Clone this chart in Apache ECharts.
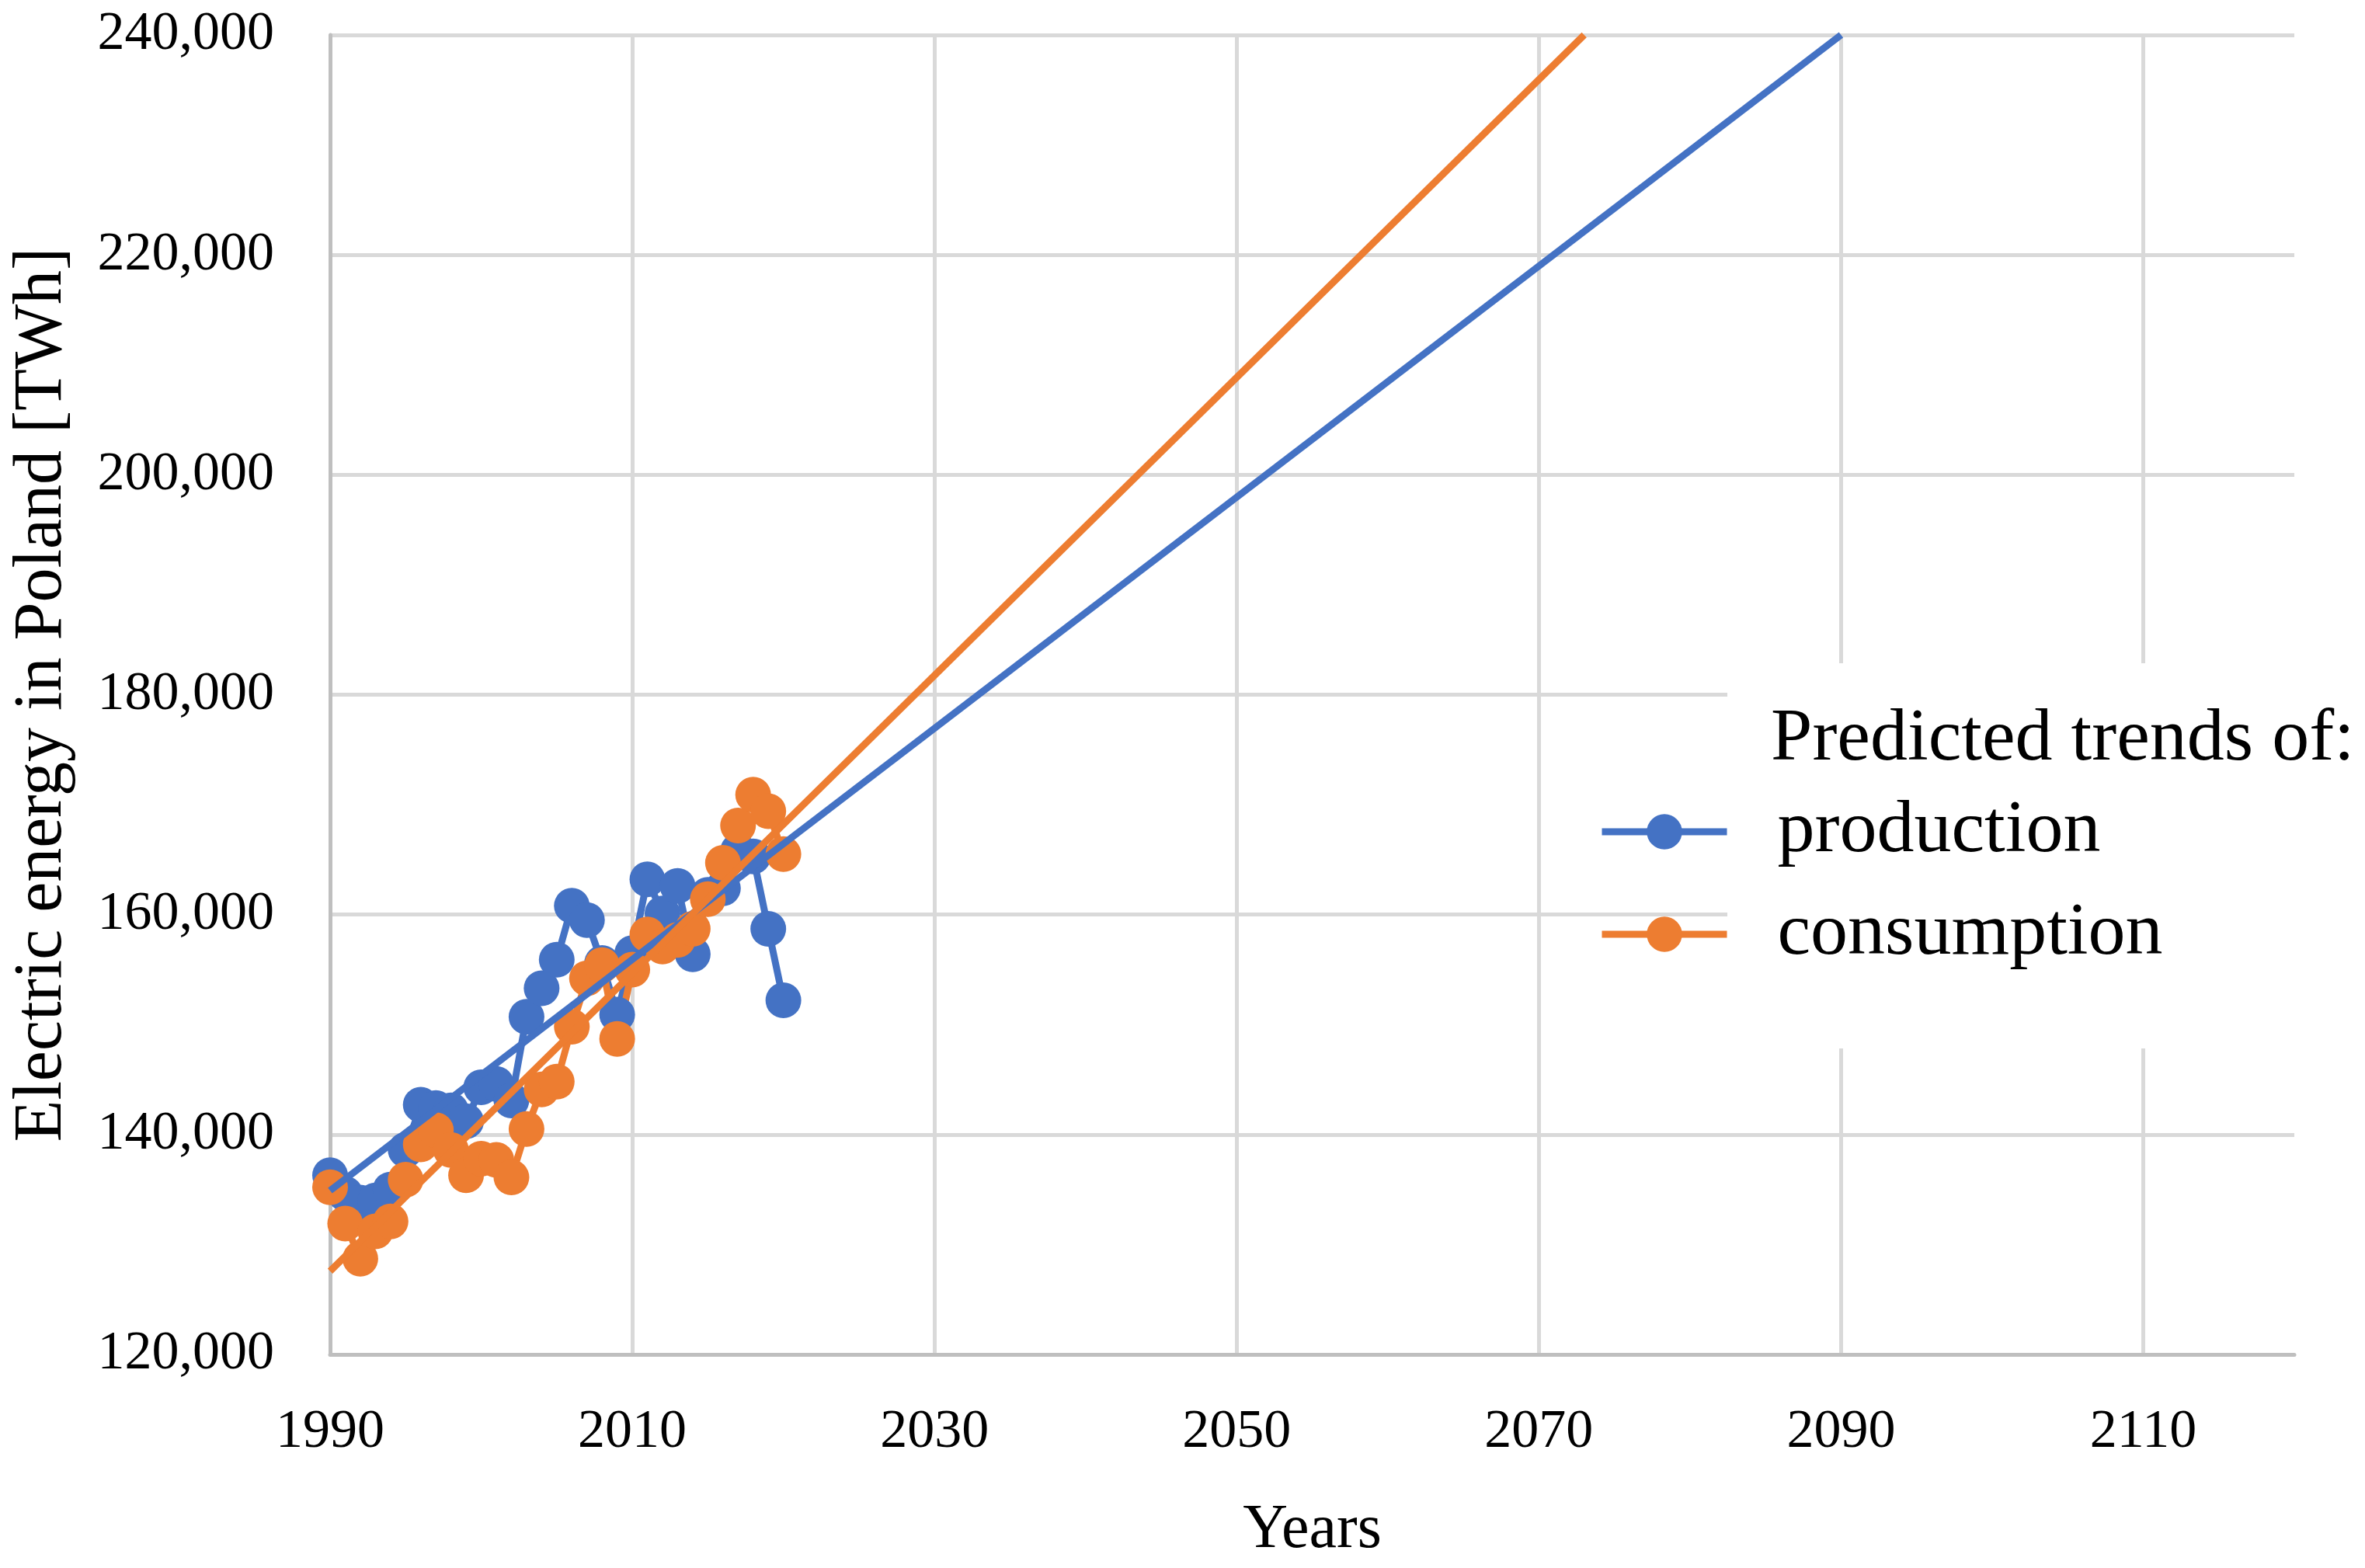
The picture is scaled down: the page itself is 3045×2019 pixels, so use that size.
<!DOCTYPE html>
<html><head><meta charset="utf-8">
<script src="https://cdn.jsdelivr.net/npm/echarts@6/dist/echarts.min.js"></script>
<style>html,body{margin:0;padding:0;background:#fff}#c{width:3045px;height:2019px}</style>
</head><body><div id="c"></div>
<script>
const years = [1990,1991,1992,1993,1994,1995,1996,1997,1998,1999,2000,2001,2002,2003,2004,2005,2006,2007,2008,2009,2010,2011,2012,2013,2014,2015,2016,2017,2018,2019,2020];
const production = [136300,134600,133800,134000,135000,138600,142700,142400,142200,141200,144300,144600,143100,150700,153300,155900,160800,159500,155600,150900,156500,163200,160100,162600,156400,161800,162400,165800,165300,158700,152200];
const consumption = [135200,131900,128700,131200,132100,135900,139100,140400,138600,136300,137800,137700,136100,140500,144100,144800,149800,154200,155400,148700,155000,158200,157100,157700,158700,161400,164700,168100,170900,169400,165500];
const productionTrend = [[1990,134900],[2090,240000]];
const consumptionTrend = [[1990,127580],[2073,240000]];
const xTickLabels = [1990,2010,2030,2050,2070,2090,2110];
const yTickLabels = [120000,140000,160000,180000,200000,220000,240000];
const seriesNames = ['production','consumption'];
const legendTitle = 'Predicted trends of:';

const BLUE = '#4472C4', ORANGE = '#ED7D31';
const FONT = 'Liberation Serif';
const LW = 9;
const chart = echarts.init(document.getElementById('c'), null, {width:3045, height:2019});
const pair = (xs, ys) => xs.map((x,i)=>[x, ys[i]]);

chart.setOption({
  animation: false,
  backgroundColor: '#ffffff',
  grid: {left: 425, top: 45, right: 91, bottom: 275},
  xAxis: {
    type: 'value', min: 1990, max: 2120, interval: 20,
    name: 'Years', nameLocation: 'middle', nameGap: 187,
    nameTextStyle: {fontFamily: FONT, fontSize: 80, color: '#000'},
    axisLine: {show: true, lineStyle: {color: '#bfbfbf', width: 5}},
    axisTick: {show: false},
    axisLabel: {margin: 66, fontFamily: FONT, fontSize: 70, color: '#000',
      formatter: v => xTickLabels.indexOf(v) >= 0 ? String(v) : ''},
    splitLine: {show: true, lineStyle: {color: ['#d9d9d9','#d9d9d9','#d9d9d9','#d9d9d9','#d9d9d9','#d9d9d9','#d9d9d9','rgba(0,0,0,0)'], width: 5}}
  },
  yAxis: {
    type: 'value', min: 120000, max: 240000, interval: 20000,
    name: 'Electric energy in Poland [TWh]', nameLocation: 'middle', nameGap: 326,
    nameTextStyle: {fontFamily: FONT, fontSize: 88, color: '#000'},
    axisLine: {show: true, lineStyle: {color: '#bfbfbf', width: 5}},
    axisTick: {show: false},
    axisLabel: {margin: 72, fontFamily: FONT, fontSize: 70, color: '#000',
      formatter: v => yTickLabels.indexOf(v) >= 0 ? v.toLocaleString('en-US') : ''},
    splitLine: {show: true, lineStyle: {color: '#d9d9d9', width: 5}}
  },
  legend: {
    data: seriesNames, orient: 'vertical', left: 2053, top: 1016,
    itemWidth: 161, itemHeight: 57, itemGap: 32,
    lineStyle: {width: LW},
    textStyle: {fontFamily: FONT, fontSize: 96, color: '#000', lineHeight: 100, padding: [0,0,0,60]}
  },
  graphic: [
    {type: 'rect', z: 1, shape: {x: 2224, y: 854, width: 821, height: 496}, style: {fill: '#ffffff'}},
    {type: 'text', z: 5, left: 2280, top: 905, style: {text: legendTitle, font: '96px "Liberation Serif"', fill: '#000'}}
  ],
  series: [
    {name: seriesNames[0], type: 'line', data: pair(years, production), symbol: 'circle', symbolSize: 46,
     itemStyle: {color: BLUE}, lineStyle: {color: BLUE, width: LW}, z: 2},
    {name: seriesNames[1], type: 'line', data: pair(years, consumption), symbol: 'circle', symbolSize: 46,
     itemStyle: {color: ORANGE}, lineStyle: {color: ORANGE, width: LW}, z: 2},
    {name: 'production trend', type: 'line', data: productionTrend, symbol: 'none',
     lineStyle: {color: BLUE, width: LW}, z: 3},
    {name: 'consumption trend', type: 'line', data: consumptionTrend, symbol: 'none',
     lineStyle: {color: ORANGE, width: LW}, z: 3}
  ]
});
</script></body></html>
